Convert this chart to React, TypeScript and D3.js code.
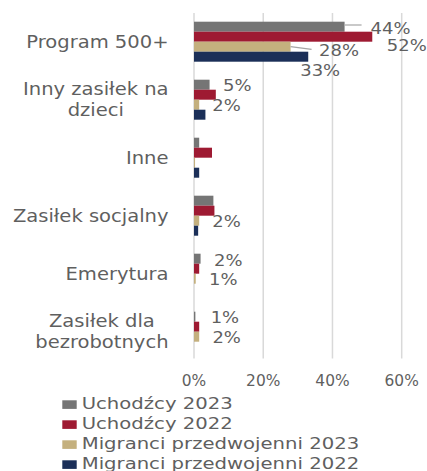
import React, { useEffect, useRef } from "react";
import * as d3 from "d3";

const categories = [
  "Program 500+",
  "Inny zasiłek na\ndzieci",
  "Inne",
  "Zasiłek socjalny",
  "Emerytura",
  "Zasiłek dla\nbezrobotnych",
];
const seriesNames = [
  "Uchodźcy 2023",
  "Uchodźcy 2022",
  "Migranci przedwojenni 2023",
  "Migranci przedwojenni 2022",
];
const uchodzcy2023 = [43.5, 4.5, 1.5, 5.6, 1.9, 0.4];
const uchodzcy2022 = [51.5, 6.3, 5.2, 5.9, 1.5, 1.5];
const migranci2023 = [27.9, 1.5, 0.3, 1.5, 0.5, 1.5];
const migranci2022 = [33, 3.3, 1.5, 1.2, 0, 0];
const xTicks = [0, 20, 40, 60];
// [categoryIndex, seriesIndex, label]
const valueLabels: [number, number, string][] = [
  [0, 0, "44%"],
  [0, 1, "52%"],
  [0, 2, "28%"],
  [0, 3, "33%"],
  [1, 0, "5%"],
  [1, 2, "2%"],
  [3, 2, "2%"],
  [4, 0, "2%"],
  [4, 2, "1%"],
  [5, 0, "1%"],
  [5, 2, "2%"],
];

// styling / placement (not data)
const colors = ["#757575", "#9E1A32", "#C4B07E", "#1B2F58"];
const labelOffsets: [number, number][] = [
  [26, 1.5],
  [14.5, 9],
  [28.5, 3.5],
  [-8, 13.5],
  [13.5, 1.3],
  [13, 1.3],
  [13, 1],
  [13.4, 2],
  [13.3, 0.8],
  [15.3, 0.8],
  [13.2, 0.8],
];
const leaderLines: Record<string, [number, number, number, number]> = {
  "0-0": [0, -1.7, 17, -1.7],
  "0-2": [0, 0, 21, 2.6],
};

const W = 427;
const H = 471;
const FONT = "DejaVu Sans, sans-serif";
const TEXT = "#5f5f5f";

export default function App() {
  const ref = useRef<SVGSVGElement>(null);

  useEffect(() => {
    const svg = d3.select(ref.current);
    svg.selectAll("*").remove();

    const data = [uchodzcy2023, uchodzcy2022, migranci2023, migranci2022];

    const x = d3.scaleLinear().domain([0, 60]).range([194, 401.7]);
    const y0 = d3
      .scaleBand<number>()
      .domain(d3.range(categories.length))
      .range([12.7, 360.7]);
    const y1 = d3
      .scaleBand<number>()
      .domain(d3.range(seriesNames.length))
      .range([0, y0.bandwidth()])
      .paddingInner(0)
      .paddingOuter(0.9);

    // gridlines
    svg
      .append("g")
      .selectAll("line")
      .data(xTicks)
      .join("line")
      .attr("x1", (d) => x(d))
      .attr("x2", (d) => x(d))
      .attr("y1", 13)
      .attr("y2", 358.5)
      .attr("stroke", "#D9D9D9")
      .attr("stroke-width", 1.5);

    // bars
    const groups = svg
      .append("g")
      .selectAll("g")
      .data(categories.map((_, i) => i))
      .join("g")
      .attr("transform", (i) => `translate(0,${y0(i)})`);

    groups
      .selectAll("rect")
      .data((i) => data.map((s, si) => ({ si, v: s[i] })))
      .join("rect")
      .attr("x", x(0))
      .attr("y", (d) => y1(d.si)!)
      .attr("width", (d) => Math.max(0, x(d.v) - x(0)))
      .attr("height", y1.bandwidth())
      .attr("fill", (d) => colors[d.si]);

    const stretchText = (
      g: d3.Selection<any, any, any, any>,
      tx: number,
      ty: number,
      txt: string,
      size: number,
      sx: number,
      anchor: string
    ) =>
      g
        .append("text")
        .attr("transform", `translate(${tx},${ty}) scale(${sx},1)`)
        .attr("font-family", FONT)
        .attr("font-size", size)
        .attr("fill", TEXT)
        .attr("text-anchor", anchor)
        .text(txt);

    // value labels
    const lg = svg.append("g");
    valueLabels.forEach(([ci, si, txt], k) => {
      const v = data[si][ci];
      const bx = x(v);
      const by = y0(ci)! + y1(si)! + y1.bandwidth() / 2;
      const key = `${ci}-${si}`;
      if (leaderLines[key]) {
        const [a, b, c, d] = leaderLines[key];
        lg.append("line")
          .attr("x1", bx + a)
          .attr("y1", by + b)
          .attr("x2", bx + c)
          .attr("y2", by + d)
          .attr("stroke", "#A6A6A6")
          .attr("stroke-width", 1.2);
      }
      const [dx, dy] = labelOffsets[k];
      stretchText(lg, bx + dx, by + dy + 5.4, txt, 15, 1.2, "start");
    });

    // category labels
    const cg = svg.append("g");
    const catSize = 17;
    const catSx = 1.15;
    const rightEdge = 168.5;
    const lineH = 21;
    categories.forEach((c, i) => {
      const lines = c.split("\n");
      const center = y0(i)! + y0.bandwidth() / 2;
      const capHalf = (catSize * 0.729) / 2;
      if (lines.length === 1) {
        stretchText(cg, rightEdge, center + capHalf, c, catSize, catSx, "end");
      } else {
        const nodes = lines.map((ln, li) => {
          const by = center + capHalf + (li - (lines.length - 1) / 2) * lineH;
          return stretchText(cg, 0, by, ln, catSize, catSx, "middle").attr(
            "data-by",
            by
          );
        });
        const maxW = d3.max(
          nodes,
          (n) => (n.node() as SVGTextElement).getComputedTextLength() * catSx
        )!;
        const cx = rightEdge - maxW / 2;
        nodes.forEach((n) =>
          n.attr(
            "transform",
            `translate(${cx},${n.attr("data-by")}) scale(${catSx},1)`
          )
        );
      }
    });

    // x tick labels
    const tg = svg.append("g");
    xTicks.forEach((t) => {
      stretchText(tg, x(t), 386.2, `${t}%`, 15, 1.03, "middle");
    });

    // legend
    const leg = svg.append("g");
    seriesNames.forEach((s, i) => {
      const baseY = 409.3 + i * 20;
      leg
        .append("rect")
        .attr("x", 62.3)
        .attr("y", baseY - 9)
        .attr("width", 14.4)
        .attr("height", 8.6)
        .attr("fill", colors[i]);
      stretchText(leg, 81.7, baseY, s, 15, 1.31, "start");
    });
  }, []);

  return (
    <svg
      ref={ref}
      width={W}
      height={H}
      style={{ position: "absolute", left: 0, top: 0, background: "#fff" }}
    />
  );
}
